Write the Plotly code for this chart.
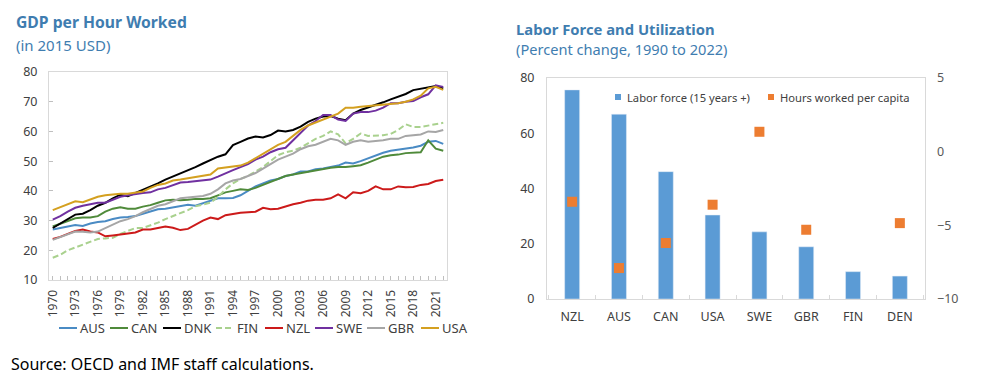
import plotly.graph_objects as go

years = list(range(1970, 2023))

AUS = [27.0, 27.5, 28.0, 28.5, 28.2, 29.0, 29.5, 29.8, 30.5, 31.0, 31.2, 31.5, 32.3, 33.0, 33.8, 34.0, 34.5, 35.0, 35.3, 35.0, 35.8, 36.5, 37.5, 37.5, 37.6, 38.5, 40.0, 41.5, 42.5, 43.5, 44.0, 45.0, 45.5, 46.5, 46.5, 47.3, 47.5, 48.0, 48.5, 49.5, 49.2, 50.0, 51.0, 52.0, 52.8, 53.5, 53.8, 54.2, 54.6, 55.2, 56.5, 56.8, 55.8]
CAN = [28.0, 29.0, 30.0, 30.8, 31.0, 31.0, 31.5, 33.0, 34.0, 34.5, 34.0, 34.0, 34.7, 35.2, 36.0, 36.8, 37.0, 36.8, 37.0, 37.3, 37.3, 37.5, 38.5, 39.5, 40.0, 40.5, 40.3, 41.0, 42.0, 43.0, 44.0, 45.0, 45.5, 46.0, 46.5, 47.0, 47.3, 47.8, 48.0, 48.0, 48.3, 48.6, 49.5, 50.5, 51.5, 52.0, 52.2, 52.7, 52.8, 53.0, 57.0, 54.2, 53.5]
DNK = [27.5, 29.0, 30.5, 32.0, 32.3, 33.5, 35.0, 36.0, 37.5, 38.7, 38.2, 39.3, 40.2, 41.3, 42.5, 43.8, 44.8, 46.0, 47.0, 48.0, 49.2, 50.4, 51.5, 52.3, 55.4, 56.5, 57.6, 58.3, 58.0, 58.8, 60.3, 60.0, 60.5, 61.6, 63.2, 64.3, 65.0, 65.2, 64.3, 63.8, 66.0, 67.2, 68.0, 68.8, 69.8, 70.8, 71.6, 72.6, 73.9, 74.3, 74.7, 75.3, 74.5]
FIN = [17.5, 18.5, 20.0, 21.0, 22.0, 22.8, 23.8, 24.0, 24.2, 25.5, 26.5, 27.5, 27.5, 28.3, 29.3, 30.5, 31.5, 32.5, 33.5, 34.8, 35.5, 36.0, 38.0, 40.5, 42.5, 44.0, 45.0, 46.5, 48.0, 50.0, 52.0, 53.0, 53.5, 54.5, 56.0, 57.5, 58.5, 60.0, 59.0, 56.0, 57.5, 59.3, 58.5, 58.5, 58.7, 59.2, 60.5, 62.4, 61.5, 61.5, 62.0, 62.5, 62.9]
NZL = [23.8, 24.5, 25.5, 26.5, 27.0, 26.3, 26.0, 24.7, 25.0, 25.3, 25.5, 26.0, 27.0, 27.0, 27.5, 28.0, 27.6, 26.8, 27.2, 28.5, 30.0, 31.0, 30.5, 31.8, 32.3, 32.6, 32.8, 33.0, 34.3, 33.8, 34.0, 34.8, 35.5, 36.0, 36.7, 37.0, 37.0, 37.5, 38.8, 37.5, 39.5, 39.2, 40.0, 41.5, 40.5, 40.5, 41.5, 41.2, 41.3, 42.0, 42.3, 43.3, 43.7]
SWE = [30.3, 31.5, 33.0, 34.3, 35.0, 35.5, 36.0, 36.0, 37.0, 38.0, 38.5, 39.0, 39.3, 39.5, 40.5, 41.0, 42.0, 42.8, 43.0, 43.3, 43.5, 43.8, 44.8, 46.0, 47.0, 48.0, 49.0, 50.5, 51.5, 53.0, 54.0, 54.5, 57.0, 59.5, 62.0, 63.5, 65.5, 65.5, 64.0, 63.5, 66.0, 66.5, 66.5, 67.0, 68.0, 69.5, 69.5, 70.0, 70.2, 71.5, 72.5, 75.5, 75.0]
GBR = [23.5, 24.5, 25.5, 26.3, 26.2, 26.0, 26.3, 27.5, 28.5, 29.8, 30.5, 31.5, 32.8, 34.0, 35.0, 35.5, 36.5, 37.5, 37.8, 38.0, 38.3, 39.0, 40.5, 42.5, 43.5, 44.0, 45.0, 46.0, 47.5, 49.0, 50.5, 51.5, 52.5, 54.0, 55.0, 55.5, 56.5, 57.5, 57.0, 55.5, 56.5, 57.0, 56.5, 56.7, 57.0, 57.5, 57.5, 58.5, 58.8, 59.0, 60.0, 59.8, 60.5]
USA = [33.5, 34.5, 35.5, 36.5, 36.2, 37.0, 38.0, 38.5, 38.8, 39.0, 39.0, 39.5, 39.8, 41.0, 42.0, 42.5, 43.5, 43.8, 44.2, 44.5, 45.0, 45.5, 47.5, 47.8, 48.0, 48.5, 49.5, 51.0, 52.5, 54.0, 55.5, 56.5, 58.5, 60.5, 62.0, 63.0, 64.0, 65.0, 66.0, 68.0, 68.0, 68.3, 68.5, 68.7, 69.0, 69.3, 69.5, 70.0, 70.8, 72.0, 74.5, 75.0, 74.0]

series_names = ["AUS", "CAN", "DNK", "FIN", "NZL", "SWE", "GBR", "USA"]
series_vals = [AUS, CAN, DNK, FIN, NZL, SWE, GBR, USA]
series_colors = ["#4a8bc4", "#4f8a3a", "#000000", "#a9d18e", "#cc1a1a", "#7030a0", "#a6a6a6", "#d4a020"]

countries = ["NZL", "AUS", "CAN", "USA", "SWE", "GBR", "FIN", "DEN"]
labor_force = [75.7, 66.9, 46.1, 30.4, 24.3, 18.9, 9.9, 8.3]
hours_worked = [-3.4, -7.9, -6.2, -3.6, 1.35, -5.3, None, -4.85]
bar_name = "Labor force (15 years +)"
marker_name = "Hours worked per capita"
bar_color = "#5b9bd5"
marker_color = "#ed7d31"

W, H = 986, 378
def px(x): return x / W
def py(y): return 1 - y / H

FIN_DASH = "6px,3px"

fig = go.Figure()
for name, vals, col in zip(series_names, series_vals, series_colors):
    fig.add_trace(go.Scatter(
        x=years, y=vals, mode="lines", name=name, showlegend=False,
        line=dict(color=col, width=2, dash=FIN_DASH if name == "FIN" else "solid"),
        xaxis="x", yaxis="y"))

fig.add_trace(go.Bar(x=countries, y=labor_force, name=bar_name, showlegend=False,
                     marker_color=bar_color, width=0.32, xaxis="x2", yaxis="y2"))
fig.add_trace(go.Scatter(x=countries, y=hours_worked, mode="markers", showlegend=False,
                         name=marker_name,
                         marker=dict(symbol="square", size=10, color=marker_color),
                         xaxis="x2", yaxis="y3"))

tick_font = dict(family="Noto Sans", size=12, color="#404040")
frame = "#d9d9d9"
title_col = "#3f7db0"

shapes = []
annotations = []

# legend for left panel (line samples + labels)
leg_x = [59, 110, 163, 216, 265, 315, 367, 421]
leg_y = 328
for name, col, x0 in zip(series_names, series_colors, leg_x):
    shapes.append(dict(type="line", xref="paper", yref="paper",
                       x0=px(x0), x1=px(x0 + 18), y0=py(leg_y), y1=py(leg_y),
                       line=dict(color=col, width=2, dash=FIN_DASH if name == "FIN" else "solid")))
    annotations.append(dict(text=name, x=px(x0 + 19), y=py(leg_y), xref="paper", yref="paper",
                            xanchor="left", yanchor="middle", showarrow=False,
                            font=dict(family="Noto Sans", size=13, color="#404040")))

# legend for right panel
for lbl, col, x0 in [(bar_name, bar_color, 615), (marker_name, marker_color, 768)]:
    shapes.append(dict(type="rect", xref="paper", yref="paper",
                       x0=px(x0), x1=px(x0 + 6), y0=py(100), y1=py(94),
                       line=dict(width=0), fillcolor=col))
    annotations.append(dict(text=lbl, x=px(x0 + 10), y=py(97), xref="paper", yref="paper",
                            xanchor="left", yanchor="middle", showarrow=False,
                            font=dict(family="Noto Sans", size=11.2, color="#404040")))

annotations += [
    dict(text="<b>GDP per Hour Worked</b>", x=px(14), y=py(22), xref="paper", yref="paper",
         xanchor="left", yanchor="middle", showarrow=False,
         font=dict(family="Noto Sans", size=15.7, color=title_col)),
    dict(text="(in 2015 USD)", x=px(14), y=py(45), xref="paper", yref="paper",
         xanchor="left", yanchor="middle", showarrow=False,
         font=dict(family="Noto Sans", size=15, color=title_col)),
    dict(text="<b>Labor Force and Utilization</b>", x=px(514), y=py(29), xref="paper", yref="paper",
         xanchor="left", yanchor="middle", showarrow=False,
         font=dict(family="Noto Sans", size=14.8, color=title_col)),
    dict(text="(Percent change, 1990 to 2022)", x=px(514), y=py(49), xref="paper", yref="paper",
         xanchor="left", yanchor="middle", showarrow=False,
         font=dict(family="Noto Sans", size=14.6, color=title_col)),
    dict(text="Source: OECD and IMF staff calculations.", x=px(9), y=py(364), xref="paper", yref="paper",
         xanchor="left", yanchor="middle", showarrow=False,
         font=dict(family="Noto Sans", size=16, color="#000000")),
]

fig.update_layout(
    width=W, height=H, margin=dict(l=0, r=0, t=0, b=0, autoexpand=False),
    paper_bgcolor="white", plot_bgcolor="white",
    font=dict(family="Noto Sans", color="#404040"),
    showlegend=False, bargap=0.68,
    xaxis=dict(domain=[px(49), px(447)], range=[1969.5, 2022.5],
               tickvals=years[::3], ticktext=[str(y) for y in years[::3]],
               tickangle=-90, tickfont=tick_font, showgrid=False, zeroline=False,
               showline=True, linecolor=frame, mirror=True,
               ticks="inside", ticklen=4, tickcolor="#bfbfbf", ticklabelstandoff=4,
               minor=dict(dtick=1, ticks="inside", ticklen=4, tickcolor="#bfbfbf"),
               anchor="y", automargin=False),
    yaxis=dict(domain=[py(280), py(72)], range=[10, 80], dtick=10,
               tickfont=dict(family="Noto Sans", size=12.5, color="#404040"),
               showgrid=False, zeroline=False,
               showline=True, linecolor=frame, mirror=True,
               ticks="inside", ticklen=4, tickcolor="#bfbfbf", ticklabelstandoff=8,
               anchor="x", automargin=False),
    xaxis2=dict(domain=[px(547), px(925)], tickfont=dict(family="Noto Sans", size=12.5, color="#404040"),
                showgrid=False, zeroline=False, showline=True, linecolor=frame, mirror=True,
                tickson="boundaries", ticks="inside", ticklen=4, tickcolor=frame,
                ticklabelstandoff=6, anchor="y2", automargin=False),
    yaxis2=dict(domain=[py(299), py(78)], range=[0, 80], dtick=20,
                tickfont=dict(family="Noto Sans", size=12.5, color="#404040"),
                showgrid=False, zeroline=False, showline=True, linecolor=frame, mirror=True,
                ticks="", ticklabelstandoff=9, anchor="x2", automargin=False),
    yaxis3=dict(range=[-10, 5], dtick=5, overlaying="y2", side="right", anchor="x2",
                tickfont=dict(family="Noto Sans", size=12.5, color="#595959"),
                showgrid=False, zeroline=False, showline=False, ticks="",
                ticklabelstandoff=11, automargin=False),
    shapes=shapes,
    annotations=annotations,
)

fig.write_html("out.html", config={"displayModeBar": False},
               post_script="document.body.style.margin='0';")
